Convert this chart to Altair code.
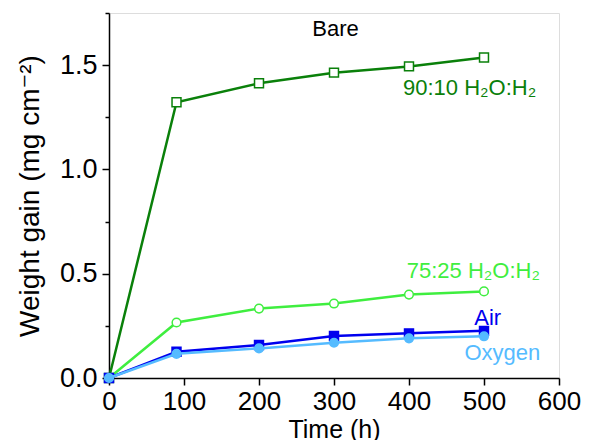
import altair as alt
import pandas as pd

time_h = [0, 90, 200, 300, 400, 500]
h2o_90 = [0.0, 1.322, 1.413, 1.464, 1.494, 1.537]
h2o_75 = [0.0, 0.266, 0.333, 0.357, 0.400, 0.415]
air = [0.0, 0.126, 0.158, 0.201, 0.214, 0.226]
oxygen = [0.0, 0.116, 0.142, 0.169, 0.190, 0.200]

series_names = ["90:10", "75:25", "Air", "Oxygen"]
series_vals = [h2o_90, h2o_75, air, oxygen]
colors = ["#0a800a", "#3fee3f", "#0000ee", "#55bbff"]
shapes = ["square", "circle", "square", "circle"]
filled = [False, False, True, True]

label_text = ["Bare", "90:10 H₂O:H₂", "75:25 H₂O:H₂", "Air", "Oxygen"]
label_x = [302, 392, 397, 487, 474]
label_y = [1.675, 1.39, 0.515, 0.29, 0.12]
label_color = ["#000000", "#0a800a", "#3fee3f", "#0000ee", "#55bbff"]
label_size = [22, 22, 22, 22, 22]
label_align = ["center", "left", "left", "left", "left"]

FONT = "Liberation Sans, Arial, DejaVu Sans"

x_scale = alt.Scale(domain=[0, 600], nice=False)
y_scale = alt.Scale(domain=[0, 1.75], nice=False)

x_axis = alt.Axis(
    title="Time (h)",
    values=list(range(0, 601, 50)),
    labelExpr="datum.value % 100 == 0 ? datum.label : ''",
    tickSize={"condition": {"test": "datum.value % 100 == 0", "value": 7}, "value": 4},
    format="d",
    grid=False, labelFlush=False,
    labelFontSize=26, titleFontSize=25,
    labelPadding=3, titlePadding=3,
    labelFont=FONT, titleFont=FONT,
    labelColor="black", titleColor="black",
    domainColor="black", tickColor="black", domainWidth=1.5, tickWidth=1.5,
    titleFontWeight="normal",
)
y_axis = alt.Axis(
    title="Weight gain (mg cm⁻²)",
    values=[0, 0.25, 0.5, 0.75, 1.0, 1.25, 1.5, 1.75],
    labelExpr="datum.value % 0.5 == 0 ? format(datum.value, '.1f') : ''",
    tickSize={"condition": {"test": "datum.value % 0.5 == 0", "value": 7}, "value": 4},
    grid=False, labelFlush=False,
    labelFontSize=27, titleFontSize=28,
    labelPadding=5, titlePadding=15,
    labelFont=FONT, titleFont=FONT,
    labelColor="black", titleColor="black",
    domainColor="black", tickColor="black", domainWidth=1.5, tickWidth=1.5,
    titleFontWeight="normal",
)

layers = []
for i, name in enumerate(series_names):
    df = pd.DataFrame({"t": time_h, "w": series_vals[i]})
    base = alt.Chart(df)
    if i == 0:
        line = base.mark_line(color=colors[i], strokeWidth=2.5).encode(
            x=alt.X("t:Q", scale=x_scale, axis=x_axis),
            y=alt.Y("w:Q", scale=y_scale, axis=y_axis),
        )
    else:
        line = base.mark_line(color=colors[i], strokeWidth=2.5).encode(
            x=alt.X("t:Q", scale=x_scale),
            y=alt.Y("w:Q", scale=y_scale),
        )
    pts = base.mark_point(
        shape=shapes[i],
        color=colors[i],
        fill=colors[i] if filled[i] else "white",
        filled=True,
        stroke=colors[i],
        strokeWidth=1.5,
        size=80 if shapes[i] == "square" else 75,
        opacity=1,
    ).encode(x="t:Q", y="w:Q")
    layers += [line, pts]

lab_df = pd.DataFrame({
    "text": label_text, "x": label_x, "y": label_y,
    "color": label_color, "size": label_size, "align": label_align,
})
for j in range(len(label_text)):
    layers.append(
        alt.Chart(lab_df.iloc[[j]]).mark_text(
            font=FONT, fontSize=label_size[j], color=label_color[j],
            align=label_align[j], baseline="middle",
        ).encode(x="x:Q", y="y:Q", text="text:N")
    )

chart = alt.layer(*layers).properties(
    width=450, height=365,
    autosize=alt.AutoSizeParams(type="none"),
    padding={"left": 101, "top": 5, "right": 22, "bottom": 62},
).configure_view(stroke="black", strokeWidth=1.5).configure(background="white")

chart.save("out.html", embed_options={"renderer": "svg", "actions": False})
